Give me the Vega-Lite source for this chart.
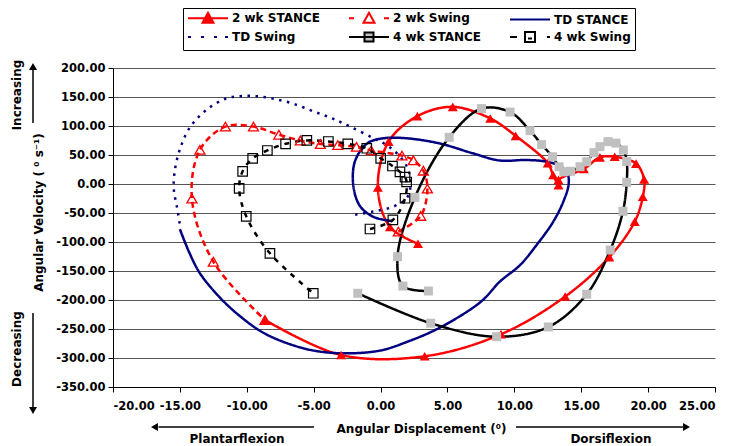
{
  "$schema": "https://vega.github.io/schema/vega-lite/v6.json",
  "width": 602,
  "height": 319,
  "autosize": {"type": "none"},
  "padding": {"left": 113, "top": 68, "right": 28, "bottom": 59},
  "background": "white",
  "datasets": {
    "pts": [
      {"s":"2 wk  STANCE","i":1,"x":-8.64,"y":-234.5},
      {"s":"2 wk  STANCE","i":2,"x":-2.95,"y":-294.8},
      {"s":"2 wk  STANCE","i":3,"x":3.3,"y":-297},
      {"s":"2 wk  STANCE","i":4,"x":9.0,"y":-259},
      {"s":"2 wk  STANCE","i":5,"x":13.8,"y":-194},
      {"s":"2 wk  STANCE","i":6,"x":17.1,"y":-126},
      {"s":"2 wk  STANCE","i":7,"x":19.0,"y":-65},
      {"s":"2 wk  STANCE","i":8,"x":19.6,"y":-22},
      {"s":"2 wk  STANCE","i":9,"x":19.7,"y":8},
      {"s":"2 wk  STANCE","i":10,"x":19.1,"y":35},
      {"s":"2 wk  STANCE","i":11,"x":17.5,"y":47},
      {"s":"2 wk  STANCE","i":12,"x":16.4,"y":46},
      {"s":"2 wk  STANCE","i":13,"x":15.2,"y":26},
      {"s":"2 wk  STANCE","i":14,"x":13.3,"y":7},
      {"s":"2 wk  STANCE","i":15,"x":13.3,"y":-2},
      {"s":"2 wk  STANCE","i":16,"x":12.9,"y":15.5},
      {"s":"2 wk  STANCE","i":17,"x":12.5,"y":36},
      {"s":"2 wk  STANCE","i":18,"x":10.1,"y":83},
      {"s":"2 wk  STANCE","i":19,"x":8.2,"y":113},
      {"s":"2 wk  STANCE","i":20,"x":5.4,"y":133},
      {"s":"2 wk  STANCE","i":21,"x":2.75,"y":117},
      {"s":"2 wk  STANCE","i":22,"x":0.6,"y":73},
      {"s":"2 wk  STANCE","i":23,"x":-0.2,"y":-6},
      {"s":"2 wk  STANCE","i":24,"x":0.7,"y":-74},
      {"s":"2 wk  STANCE","i":25,"x":2.8,"y":-103},

      {"s":"2 wk Swing","i":1,"x":1.33,"y":-82},
      {"s":"2 wk Swing","i":2,"x":3.0,"y":-55},
      {"s":"2 wk Swing","i":3,"x":3.5,"y":-8},
      {"s":"2 wk Swing","i":4,"x":3.2,"y":23},
      {"s":"2 wk Swing","i":5,"x":2.45,"y":41},
      {"s":"2 wk Swing","i":6,"x":1.6,"y":49},
      {"s":"2 wk Swing","i":7,"x":-0.7,"y":58},
      {"s":"2 wk Swing","i":8,"x":-1.8,"y":64},
      {"s":"2 wk Swing","i":9,"x":-3.2,"y":67},
      {"s":"2 wk Swing","i":10,"x":-4.5,"y":69},
      {"s":"2 wk Swing","i":11,"x":-6.0,"y":75},
      {"s":"2 wk Swing","i":12,"x":-7.6,"y":85},
      {"s":"2 wk Swing","i":13,"x":-9.5,"y":99},
      {"s":"2 wk Swing","i":14,"x":-11.6,"y":99},
      {"s":"2 wk Swing","i":15,"x":-13.5,"y":59},
      {"s":"2 wk Swing","i":16,"x":-14.1,"y":-25},
      {"s":"2 wk Swing","i":17,"x":-12.5,"y":-134},
      {"s":"2 wk Swing","i":18,"x":-8.64,"y":-234.5},

      {"s":"TD STANCE","i":1,"x":-15.0,"y":-78},
      {"s":"TD STANCE","i":2,"x":-14.3,"y":-118},
      {"s":"TD STANCE","i":3,"x":-13.5,"y":-154},
      {"s":"TD STANCE","i":4,"x":-12.0,"y":-196},
      {"s":"TD STANCE","i":5,"x":-10.5,"y":-228},
      {"s":"TD STANCE","i":6,"x":-8.8,"y":-256},
      {"s":"TD STANCE","i":7,"x":-6.8,"y":-276},
      {"s":"TD STANCE","i":8,"x":-4.8,"y":-288},
      {"s":"TD STANCE","i":9,"x":-2.5,"y":-292},
      {"s":"TD STANCE","i":10,"x":0.0,"y":-287},
      {"s":"TD STANCE","i":11,"x":2.0,"y":-272},
      {"s":"TD STANCE","i":12,"x":4.4,"y":-248},
      {"s":"TD STANCE","i":13,"x":7.5,"y":-203},
      {"s":"TD STANCE","i":14,"x":8.93,"y":-168},
      {"s":"TD STANCE","i":15,"x":10.42,"y":-140},
      {"s":"TD STANCE","i":16,"x":11.67,"y":-105},
      {"s":"TD STANCE","i":17,"x":12.91,"y":-65},
      {"s":"TD STANCE","i":18,"x":13.66,"y":-30.5},
      {"s":"TD STANCE","i":19,"x":14.05,"y":-2},
      {"s":"TD STANCE","i":20,"x":14.0,"y":16},
      {"s":"TD STANCE","i":21,"x":13.5,"y":30},
      {"s":"TD STANCE","i":22,"x":12.4,"y":38.5},
      {"s":"TD STANCE","i":23,"x":10.9,"y":41.4},
      {"s":"TD STANCE","i":24,"x":8.9,"y":40.5},
      {"s":"TD STANCE","i":25,"x":6.9,"y":52.9},
      {"s":"TD STANCE","i":26,"x":4.4,"y":70},
      {"s":"TD STANCE","i":27,"x":1.95,"y":78.8},
      {"s":"TD STANCE","i":28,"x":0.2,"y":78.8},
      {"s":"TD STANCE","i":29,"x":-1.0,"y":70},
      {"s":"TD STANCE","i":30,"x":-1.9,"y":40},
      {"s":"TD STANCE","i":31,"x":-2.04,"y":-2},
      {"s":"TD STANCE","i":32,"x":-1.54,"y":-38},
      {"s":"TD STANCE","i":33,"x":-0.5,"y":-57},
      {"s":"TD STANCE","i":34,"x":0.9,"y":-64},

      {"s":"TD Swing","i":1,"x":-1.9,"y":-53},
      {"s":"TD Swing","i":2,"x":-0.55,"y":-47.5},
      {"s":"TD Swing","i":3,"x":0.95,"y":-39},
      {"s":"TD Swing","i":4,"x":1.95,"y":-24.6},
      {"s":"TD Swing","i":5,"x":2.25,"y":-2},
      {"s":"TD Swing","i":6,"x":2.15,"y":18},
      {"s":"TD Swing","i":7,"x":1.83,"y":36},
      {"s":"TD Swing","i":8,"x":1.21,"y":53},
      {"s":"TD Swing","i":9,"x":0.46,"y":67},
      {"s":"TD Swing","i":10,"x":-0.53,"y":79},
      {"s":"TD Swing","i":11,"x":-2.28,"y":99},
      {"s":"TD Swing","i":12,"x":-3.6,"y":113},
      {"s":"TD Swing","i":13,"x":-5.0,"y":125},
      {"s":"TD Swing","i":14,"x":-6.6,"y":139},
      {"s":"TD Swing","i":15,"x":-8.0,"y":147},
      {"s":"TD Swing","i":16,"x":-9.3,"y":151.5},
      {"s":"TD Swing","i":17,"x":-10.5,"y":151.5},
      {"s":"TD Swing","i":18,"x":-11.6,"y":147},
      {"s":"TD Swing","i":19,"x":-13.0,"y":128},
      {"s":"TD Swing","i":20,"x":-14.24,"y":98},
      {"s":"TD Swing","i":21,"x":-15.0,"y":60},
      {"s":"TD Swing","i":22,"x":-15.4,"y":20},
      {"s":"TD Swing","i":23,"x":-15.45,"y":-10},
      {"s":"TD Swing","i":24,"x":-15.2,"y":-42},
      {"s":"TD Swing","i":25,"x":-15.0,"y":-70},

      {"s":"4 wk STANCE","i":1,"x":-1.7,"y":-188.4},
      {"s":"4 wk STANCE","i":2,"x":3.75,"y":-240},
      {"s":"4 wk STANCE","i":3,"x":8.68,"y":-263.3},
      {"s":"4 wk STANCE","i":4,"x":12.54,"y":-246.5},
      {"s":"4 wk STANCE","i":5,"x":15.41,"y":-190},
      {"s":"4 wk STANCE","i":6,"x":17.17,"y":-113.8},
      {"s":"4 wk STANCE","i":7,"x":18.12,"y":-47},
      {"s":"4 wk STANCE","i":8,"x":18.4,"y":3},
      {"s":"4 wk STANCE","i":9,"x":18.4,"y":39},
      {"s":"4 wk STANCE","i":10,"x":18.15,"y":58.6},
      {"s":"4 wk STANCE","i":11,"x":17.6,"y":70.5},
      {"s":"4 wk STANCE","i":12,"x":17.0,"y":73},
      {"s":"4 wk STANCE","i":13,"x":16.4,"y":64.4},
      {"s":"4 wk STANCE","i":14,"x":15.95,"y":54},
      {"s":"4 wk STANCE","i":15,"x":15.41,"y":38.4},
      {"s":"4 wk STANCE","i":16,"x":14.91,"y":29.8},
      {"s":"4 wk STANCE","i":17,"x":14.2,"y":22},
      {"s":"4 wk STANCE","i":18,"x":13.7,"y":21},
      {"s":"4 wk STANCE","i":19,"x":13.35,"y":29.8},
      {"s":"4 wk STANCE","i":20,"x":12.85,"y":47},
      {"s":"4 wk STANCE","i":21,"x":12.04,"y":68},
      {"s":"4 wk STANCE","i":22,"x":11.17,"y":92},
      {"s":"4 wk STANCE","i":23,"x":9.68,"y":124},
      {"s":"4 wk STANCE","i":24,"x":7.55,"y":130},
      {"s":"4 wk STANCE","i":25,"x":5.13,"y":80.5},
      {"s":"4 wk STANCE","i":26,"x":2.57,"y":-23},
      {"s":"4 wk STANCE","i":27,"x":1.27,"y":-125.3},
      {"s":"4 wk STANCE","i":28,"x":1.67,"y":-176},
      {"s":"4 wk STANCE","i":29,"x":3.58,"y":-184.5},

      {"s":"4 wk Swing","i":1,"x":-0.79,"y":-77.6},
      {"s":"4 wk Swing","i":2,"x":0.92,"y":-62},
      {"s":"4 wk Swing","i":3,"x":1.83,"y":-24.6},
      {"s":"4 wk Swing","i":4,"x":1.95,"y":3.5},
      {"s":"4 wk Swing","i":5,"x":1.83,"y":12},
      {"s":"4 wk Swing","i":6,"x":1.45,"y":21},
      {"s":"4 wk Swing","i":7,"x":0.89,"y":31},
      {"s":"4 wk Swing","i":8,"x":0.01,"y":44.3},
      {"s":"4 wk Swing","i":9,"x":-1.03,"y":61.6},
      {"s":"4 wk Swing","i":10,"x":-2.45,"y":69.3},
      {"s":"4 wk Swing","i":11,"x":-3.9,"y":73.3},
      {"s":"4 wk Swing","i":12,"x":-5.51,"y":75.2},
      {"s":"4 wk Swing","i":13,"x":-7.1,"y":69.3},
      {"s":"4 wk Swing","i":14,"x":-8.46,"y":57.8},
      {"s":"4 wk Swing","i":15,"x":-9.56,"y":44.3},
      {"s":"4 wk Swing","i":16,"x":-10.31,"y":21.9},
      {"s":"4 wk Swing","i":17,"x":-10.57,"y":-7.4},
      {"s":"4 wk Swing","i":18,"x":-10.04,"y":-55.8},
      {"s":"4 wk Swing","i":19,"x":-8.27,"y":-119.5},
      {"s":"4 wk Swing","i":20,"x":-5.03,"y":-188.4}
    ],
    "one": [{"k": 1}]
  },
  "layer": [
    {
      "data": {"name": "pts"},
      "mark": {"type": "line", "interpolate": "catmull-rom", "strokeWidth": 2.5, "clip": false},
      "encoding": {
        "x": {
          "field": "x", "type": "quantitative",
          "scale": {"domain": [-20, 25], "nice": false, "zero": false},
          "axis": {
            "values": [-20, -15, -10, -5, 0, 5, 10, 15, 20, 25], "tickCount": 20,
            "format": ".2f", "grid": false,
            "title": "Angular Displacement (⁰)",
            "titleX": 308, "titleY": 41, "titleAlign": "center", "titleBaseline": "middle",
            "labelPadding": 8, "tickSize": 5
          }
        },
        "y": {
          "field": "y", "type": "quantitative",
          "scale": {"domain": [-350, 200], "nice": false, "zero": false},
          "axis": {
            "values": [-350, -300, -250, -200, -150, -100, -50, 0, 50, 100, 150, 200], "tickCount": 20,
            "format": ".2f", "grid": true,
            "title": "Angular Velocity ( ⁰ s⁻¹)",
            "titleX": -75, "titleY": 144, "titleAngle": 270, "titleAlign": "center", "titleBaseline": "middle",
            "labelPadding": 3, "tickSize": 5
          }
        },
        "order": {"field": "i", "type": "quantitative"},
        "color": {
          "field": "s", "type": "nominal", "legend": null,
          "scale": {
            "domain": ["4 wk STANCE", "4 wk Swing", "2 wk  STANCE", "2 wk Swing", "TD STANCE", "TD Swing"],
            "range": ["#000000", "#000000", "#FF0000", "#FF0000", "#000080", "#000080"]
          }
        },
        "strokeDash": {
          "field": "s", "type": "nominal", "legend": null,
          "scale": {
            "domain": ["4 wk STANCE", "4 wk Swing", "2 wk  STANCE", "2 wk Swing", "TD STANCE", "TD Swing"],
            "range": [[1, 0], [5, 6], [1, 0], [6, 4], [1, 0], [2.5, 5.5]]
          }
        }
      }
    },
    {
      "data": {"name": "pts"},
      "transform": [{"filter": "datum.s === '2 wk  STANCE'"}],
      "mark": {"type": "point", "shape": "triangle-up", "filled": true, "color": "#FF0000", "size": 100, "opacity": 1, "strokeWidth": 0},
      "encoding": {"x": {"field": "x", "type": "quantitative"}, "y": {"field": "y", "type": "quantitative"}}
    },
    {
      "data": {"name": "pts"},
      "transform": [{"filter": "datum.s === '2 wk Swing'"}],
      "mark": {"type": "point", "shape": "triangle-up", "filled": false, "color": "#FF0000", "size": 100, "opacity": 1, "strokeWidth": 1.3},
      "encoding": {"x": {"field": "x", "type": "quantitative"}, "y": {"field": "y", "type": "quantitative"}}
    },
    {
      "data": {"name": "pts"},
      "transform": [{"filter": "datum.s === '4 wk STANCE'"}],
      "mark": {"type": "point", "shape": "square", "filled": true, "color": "#C0C0C0", "size": 81, "opacity": 1, "strokeWidth": 0},
      "encoding": {"x": {"field": "x", "type": "quantitative"}, "y": {"field": "y", "type": "quantitative"}}
    },
    {
      "data": {"name": "pts"},
      "transform": [{"filter": "datum.s === '4 wk Swing'"}],
      "mark": {"type": "point", "shape": "square", "filled": false, "color": "#000000", "size": 90, "opacity": 1, "strokeWidth": 1.2},
      "encoding": {"x": {"field": "x", "type": "quantitative"}, "y": {"field": "y", "type": "quantitative"}}
    },
    {
      "data": {"name": "one"},
      "mark": {"type": "text", "text": "Increasing", "angle": 270, "font": "DejaVu Sans", "fontWeight": "bold", "fontSize": 12, "clip": false},
      "encoding": {"x": {"datum": -27.18}, "y": {"datum": 153.4}}
    },
    {
      "data": {"name": "one"},
      "mark": {"type": "text", "text": "Decreasing", "angle": 270, "font": "DejaVu Sans", "fontWeight": "bold", "fontSize": 12, "clip": false},
      "encoding": {"x": {"datum": -27.18}, "y": {"datum": -284.5}}
    },
    {
      "data": {"name": "one"},
      "mark": {"type": "text", "text": "Plantarflexion", "font": "DejaVu Sans", "fontWeight": "bold", "fontSize": 12, "clip": false},
      "encoding": {"x": {"datum": -10.73}, "y": {"datum": -439.7}}
    },
    {
      "data": {"name": "one"},
      "mark": {"type": "text", "text": "Dorsiflexion", "font": "DejaVu Sans", "fontWeight": "bold", "fontSize": 12, "clip": false},
      "encoding": {"x": {"datum": 17.22}, "y": {"datum": -439.7}}
    },
    {
      "data": {"name": "one"},
      "mark": {"type": "rule", "color": "black", "strokeWidth": 1.5, "clip": false},
      "encoding": {"x": {"datum": -25.98}, "y": {"datum": 105.2}, "y2": {"datum": 198}}
    },
    {
      "data": {"name": "one"},
      "mark": {"type": "point", "shape": "triangle-up", "filled": true, "color": "black", "size": 64, "opacity": 1, "clip": false},
      "encoding": {"x": {"datum": -25.98}, "y": {"datum": 202.6}}
    },
    {
      "data": {"name": "one"},
      "mark": {"type": "rule", "color": "black", "strokeWidth": 1.5, "clip": false},
      "encoding": {"x": {"datum": -25.98}, "y": {"datum": -222.4}, "y2": {"datum": -386}}
    },
    {
      "data": {"name": "one"},
      "mark": {"type": "point", "shape": "triangle-down", "filled": true, "color": "black", "size": 64, "opacity": 1, "clip": false},
      "encoding": {"x": {"datum": -25.98}, "y": {"datum": -390.5}}
    },
    {
      "data": {"name": "one"},
      "mark": {"type": "rule", "color": "black", "strokeWidth": 1.5, "clip": false},
      "encoding": {"y": {"datum": -419}, "x": {"datum": -4.98}, "x2": {"datum": -16.6}}
    },
    {
      "data": {"name": "one"},
      "mark": {"type": "point", "shape": "triangle-left", "filled": true, "color": "black", "size": 64, "opacity": 1, "clip": false},
      "encoding": {"y": {"datum": -419}, "x": {"datum": -16.9}}
    },
    {
      "data": {"name": "one"},
      "mark": {"type": "rule", "color": "black", "strokeWidth": 1.5, "clip": false},
      "encoding": {"y": {"datum": -419}, "x": {"datum": 10.12}, "x2": {"datum": 22.6}}
    },
    {
      "data": {"name": "one"},
      "mark": {"type": "point", "shape": "triangle-right", "filled": true, "color": "black", "size": 64, "opacity": 1, "clip": false},
      "encoding": {"y": {"datum": -419}, "x": {"datum": 22.87}}
    },
    {
      "data": {"name": "pts"},
      "transform": [{"filter": "datum.i < 0"}],
      "mark": {"type": "point", "filled": true, "opacity": 1, "strokeWidth": 2},
      "encoding": {
        "x": {"field": "x", "type": "quantitative"},
        "y": {"field": "y", "type": "quantitative"},
        "shape": {
          "field": "s", "type": "nominal",
          "scale": {
            "domain": ["2 wk  STANCE", "2 wk Swing", "TD STANCE", "TD Swing", "4 wk STANCE", "4 wk Swing"],
            "range": [
              "M-1,0H7M1.9,0.9L3,-1.1L4.1,0.9Z",
              "M-1,0H0M1.9,0.9L3,-1.1L4.1,0.9ZM6,0H7",
              "M-1,0H7",
              "M-1,0H-0.4M1.6,0H2.2M4.2,0H4.8M6.4,0H7",
              "M-1,0H7M2.1,-0.9H3.9V0.9H2.1Z",
              "M-1,0H0.4M2,-1H4V1H2ZM2.6,0.3H3.4M6.4,0H7"
            ]
          },
          "legend": {"title": null, "orient": "none", "legendX": 70, "legendY": -60, "columns": 3, "direction": "horizontal"}
        },
        "fill": {
          "field": "s", "type": "nominal",
          "scale": {
            "domain": ["2 wk  STANCE", "2 wk Swing", "TD STANCE", "TD Swing", "4 wk STANCE", "4 wk Swing"],
            "range": ["#FF0000", "white", "white", "white", "#C0C0C0", "white"]
          },
          "legend": {"title": null, "orient": "none", "legendX": 70, "legendY": -60, "columns": 3, "direction": "horizontal"}
        },
        "stroke": {
          "field": "s", "type": "nominal",
          "scale": {
            "domain": ["2 wk  STANCE", "2 wk Swing", "TD STANCE", "TD Swing", "4 wk STANCE", "4 wk Swing"],
            "range": ["#FF0000", "#FF0000", "#000080", "#000080", "#000000", "#000000"]
          },
          "legend": {"title": null, "orient": "none", "legendX": 70, "legendY": -60, "columns": 3, "direction": "horizontal"}
        }
      }
    }
  ],
  "config": {
    "view": {"stroke": null},
    "font": "DejaVu Sans",
    "locale": {"number": {"decimal": ".", "thousands": ",", "grouping": [3], "currency": ["$", ""], "minus": "-"}},
    "axis": {
      "labelFont": "DejaVu Sans", "labelFontWeight": "bold", "labelFontSize": 11.5, "labelColor": "black",
      "titleFont": "DejaVu Sans", "titleFontWeight": "bold", "titleFontSize": 12, "titleColor": "black",
      "domainColor": "black", "domainWidth": 1, "tickColor": "black", "tickWidth": 1,
      "gridColor": "#555555", "gridWidth": 1
    },
    "legend": {
      "gridAlign": "all", "columnPadding": 20, "rowPadding": 1,
      "symbolSize": 100, "symbolStrokeWidth": 2,
      "labelFont": "DejaVu Sans", "labelFontWeight": "bold", "labelFontSize": 12, "labelColor": "black",
      "labelOffset": 33, "strokeColor": "black", "fillColor": "white", "padding": 4
    }
  }
}
